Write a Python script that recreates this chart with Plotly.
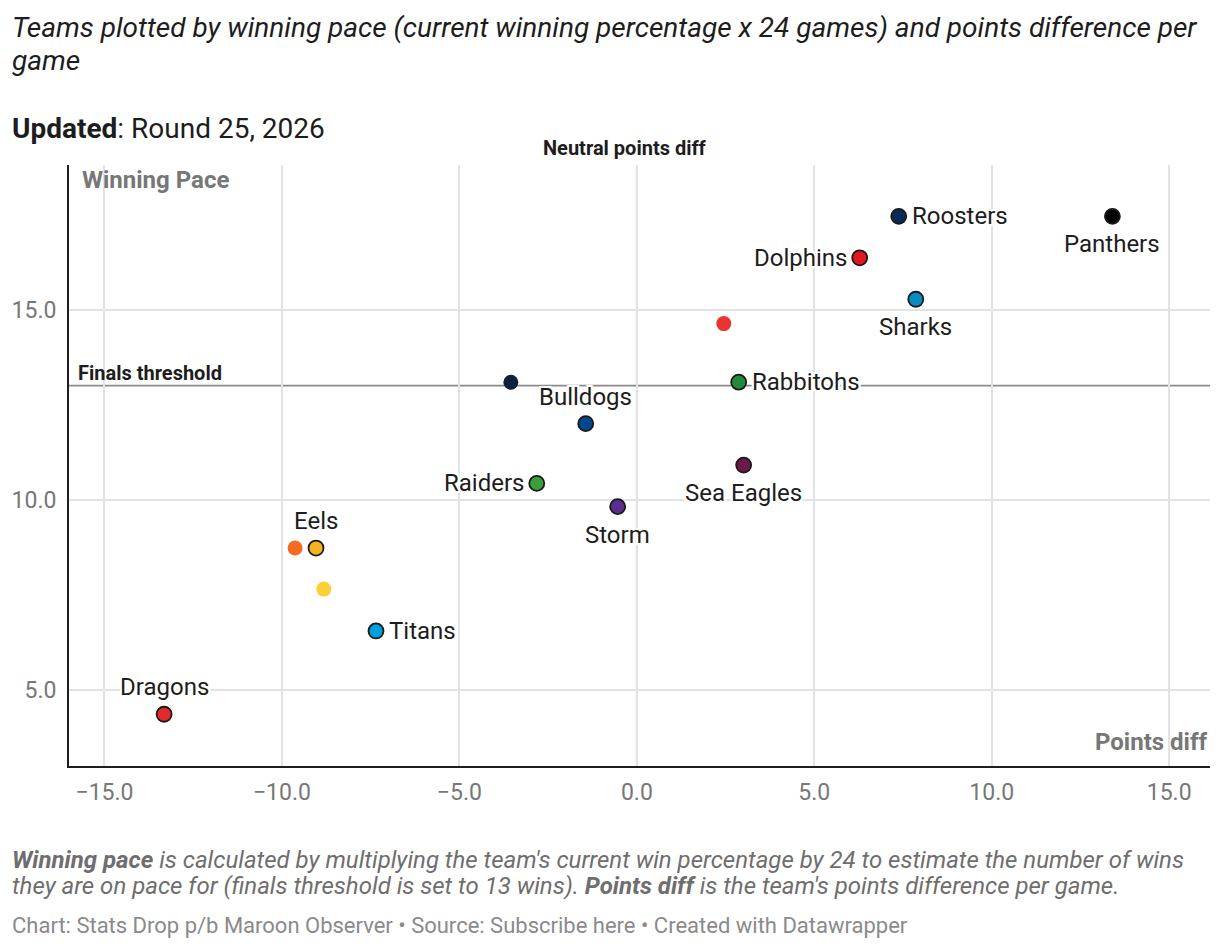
import plotly.graph_objects as go

# Dane
teams = ["Panthers", "Roosters", "Dolphins", "Sharks", "Rabbitohs", "Bulldogs",
         "Sea Eagles", "Raiders", "Storm", "Eels", "Titans", "Dragons"]
points_diff = [13.4, 7.38, 6.28, 7.86, 2.87, -1.44, 3.01, -2.82, -0.54, -9.04, -7.35, -13.32]
winning_pace = [17.45, 17.45, 16.36, 15.27, 13.09, 12.0, 10.91, 10.43, 9.82, 8.73, 6.55, 4.36]
team_colors = ["#000000", "#0b2a55", "#e2171f", "#0a8ac4", "#1f8a3a", "#00478f",
               "#6a1a45", "#39a03b", "#5a2d8e", "#f7b31f", "#00a0df", "#e32a2b"]
label_pos = ["bottom", "right", "left", "bottom", "right", "top",
             "bottom", "left", "bottom", "top", "right", "top"]

# Punkty bez etykiet
other_teams = ["Knights", "Cowboys", "Wests Tigers", "Broncos"]
other_diff = [2.45, -3.55, -9.63, -8.82]
other_pace = [14.63, 13.09, 8.73, 7.65]
other_colors = ["#e8342f", "#0e2240", "#f56b1f", "#fdcf36"]

x_ticks = [-15, -10, -5, 0, 5, 10, 15]
y_ticks = [5, 10, 15]
finals_threshold = 13

halo = ("-2px -2px 0 #fff, 2px -2px 0 #fff, -2px 2px 0 #fff, 2px 2px 0 #fff, "
        "0 2px 0 #fff, 0 -2px 0 #fff, 2px 0 0 #fff, -2px 0 0 #fff")

fig = go.Figure()

fig.add_trace(go.Scatter(
    x=other_diff, y=other_pace, mode="markers", text=other_teams,
    hoverinfo="text",
    marker=dict(size=15, color=other_colors, line=dict(width=0)),
))

fig.add_trace(go.Scatter(
    x=points_diff, y=winning_pace, mode="markers", text=teams,
    hoverinfo="text",
    marker=dict(size=15, color=team_colors, line=dict(width=1.8, color="#1a1a1a")),
))

# Linie odniesienia
fig.add_shape(type="line", x0=0, x1=0, y0=0, y1=1, xref="x", yref="paper",
              line=dict(color="#8a8a8a", width=1.8), layer="below")
fig.add_shape(type="line", x0=0, x1=1, y0=finals_threshold, y1=finals_threshold,
              xref="paper", yref="y", line=dict(color="#8a8a8a", width=1.8), layer="below")

annotations = [
    dict(text="<i>Teams plotted by winning pace (current winning percentage x 24 games) and points difference per</i>",
         x=10, y=27, xanchor="left", font=dict(size=28, color="#1d1d1d")),
    dict(text="<i>game</i>", x=10, y=61, xanchor="left", font=dict(size=28, color="#1d1d1d")),
    dict(text="<b>Updated</b>: Round 25, 2026", x=10, y=128, xanchor="left",
         font=dict(size=28, color="#1d1d1d")),
    dict(text="<b>Neutral points diff</b>", x=0, xref="x", xshift=-12, y=148, xanchor="center",
         font=dict(size=20, color="#1d1d1d")),
    dict(text="<b>Finals threshold</b>", x=76, y=373, xanchor="left",
         font=dict(size=20, color="#1d1d1d")),
    dict(text="<b>Winning Pace</b>", x=80, y=180, xanchor="left",
         font=dict(size=24, color="#777777")),
    dict(text="<b>Points diff</b>", x=1210, y=742, xanchor="right",
         font=dict(size=24, color="#777777")),
    dict(text="<i><b>Winning pace</b> is calculated by multiplying the team's current win percentage by 24 to estimate the number of wins</i>",
         x=10, y=860, xanchor="left", font=dict(size=24, color="#6e6e6e")),
    dict(text="<i>they are on pace for (finals threshold is set to 13 wins). <b>Points diff</b> is the team's points difference per game.</i>",
         x=10, y=886, xanchor="left", font=dict(size=24, color="#6e6e6e")),
    dict(text="Chart: Stats Drop p/b Maroon Observer • Source: Subscribe here • Created with Datawrapper",
         x=10, y=925, xanchor="left", font=dict(size=22, color="#8a8a8a")),
]

# Przelicz pozycje pikselowe (strona, z marginesem 8 px) na współrzędne papieru
OFF = 8
W, H = 1212, 940
L, R, T, B = 61, 10, 157, 182
pw, ph = W - L - R, H - T - B
for a in annotations:
    if a.get("xref") != "x":
        a["x"] = (a["x"] - OFF - L) / pw
        a["xref"] = "paper"
    a["y"] = (H - B - (a["y"] - OFF)) / ph
    a["yref"] = "paper"
    a["yanchor"] = "middle"
    a["showarrow"] = False

# Etykiety drużyn z białą obwódką
shifts = {"bottom": ("center", 0, -28), "top": ("center", 0, 27),
          "right": ("left", 11, 0), "left": ("right", -11, 0)}
for name, xv, yv, pos in zip(teams, points_diff, winning_pace, label_pos):
    xa, xs, ys = shifts[pos]
    annotations.append(dict(
        text=name, x=xv, y=yv, xref="x", yref="y", showarrow=False,
        xanchor=xa, yanchor="middle", xshift=xs, yshift=ys,
        font=dict(family="Roboto", size=24, color="#1d1d1d", shadow=halo),
    ))

fig.update_layout(
    width=W, height=H,
    margin=dict(l=L, r=R, t=T, b=B),
    plot_bgcolor="white", paper_bgcolor="white",
    font=dict(family="Roboto", color="#1d1d1d"),
    showlegend=False,
    annotations=annotations,
    hovermode="closest",
)

fig.update_xaxes(
    range=[-16.0, 16.15], tickvals=x_ticks, tickformat=".1f", automargin=False,
    showgrid=True, gridcolor="#e3e3e3", gridwidth=1.8, zeroline=False,
    showline=True, linecolor="#1d1d1d", linewidth=2,
    tickfont=dict(size=23, color="#777777"), ticks="", ticklabelstandoff=4,
)
fig.update_yaxes(
    range=[3.0, 18.8], tickvals=y_ticks, tickformat=".1f", automargin=False,
    showgrid=True, gridcolor="#e3e3e3", gridwidth=1.8, zeroline=False,
    showline=True, linecolor="#1d1d1d", linewidth=2,
    tickfont=dict(size=23, color="#777777"), ticks="", ticklabelstandoff=6,
)

fig.write_html("out.html")
